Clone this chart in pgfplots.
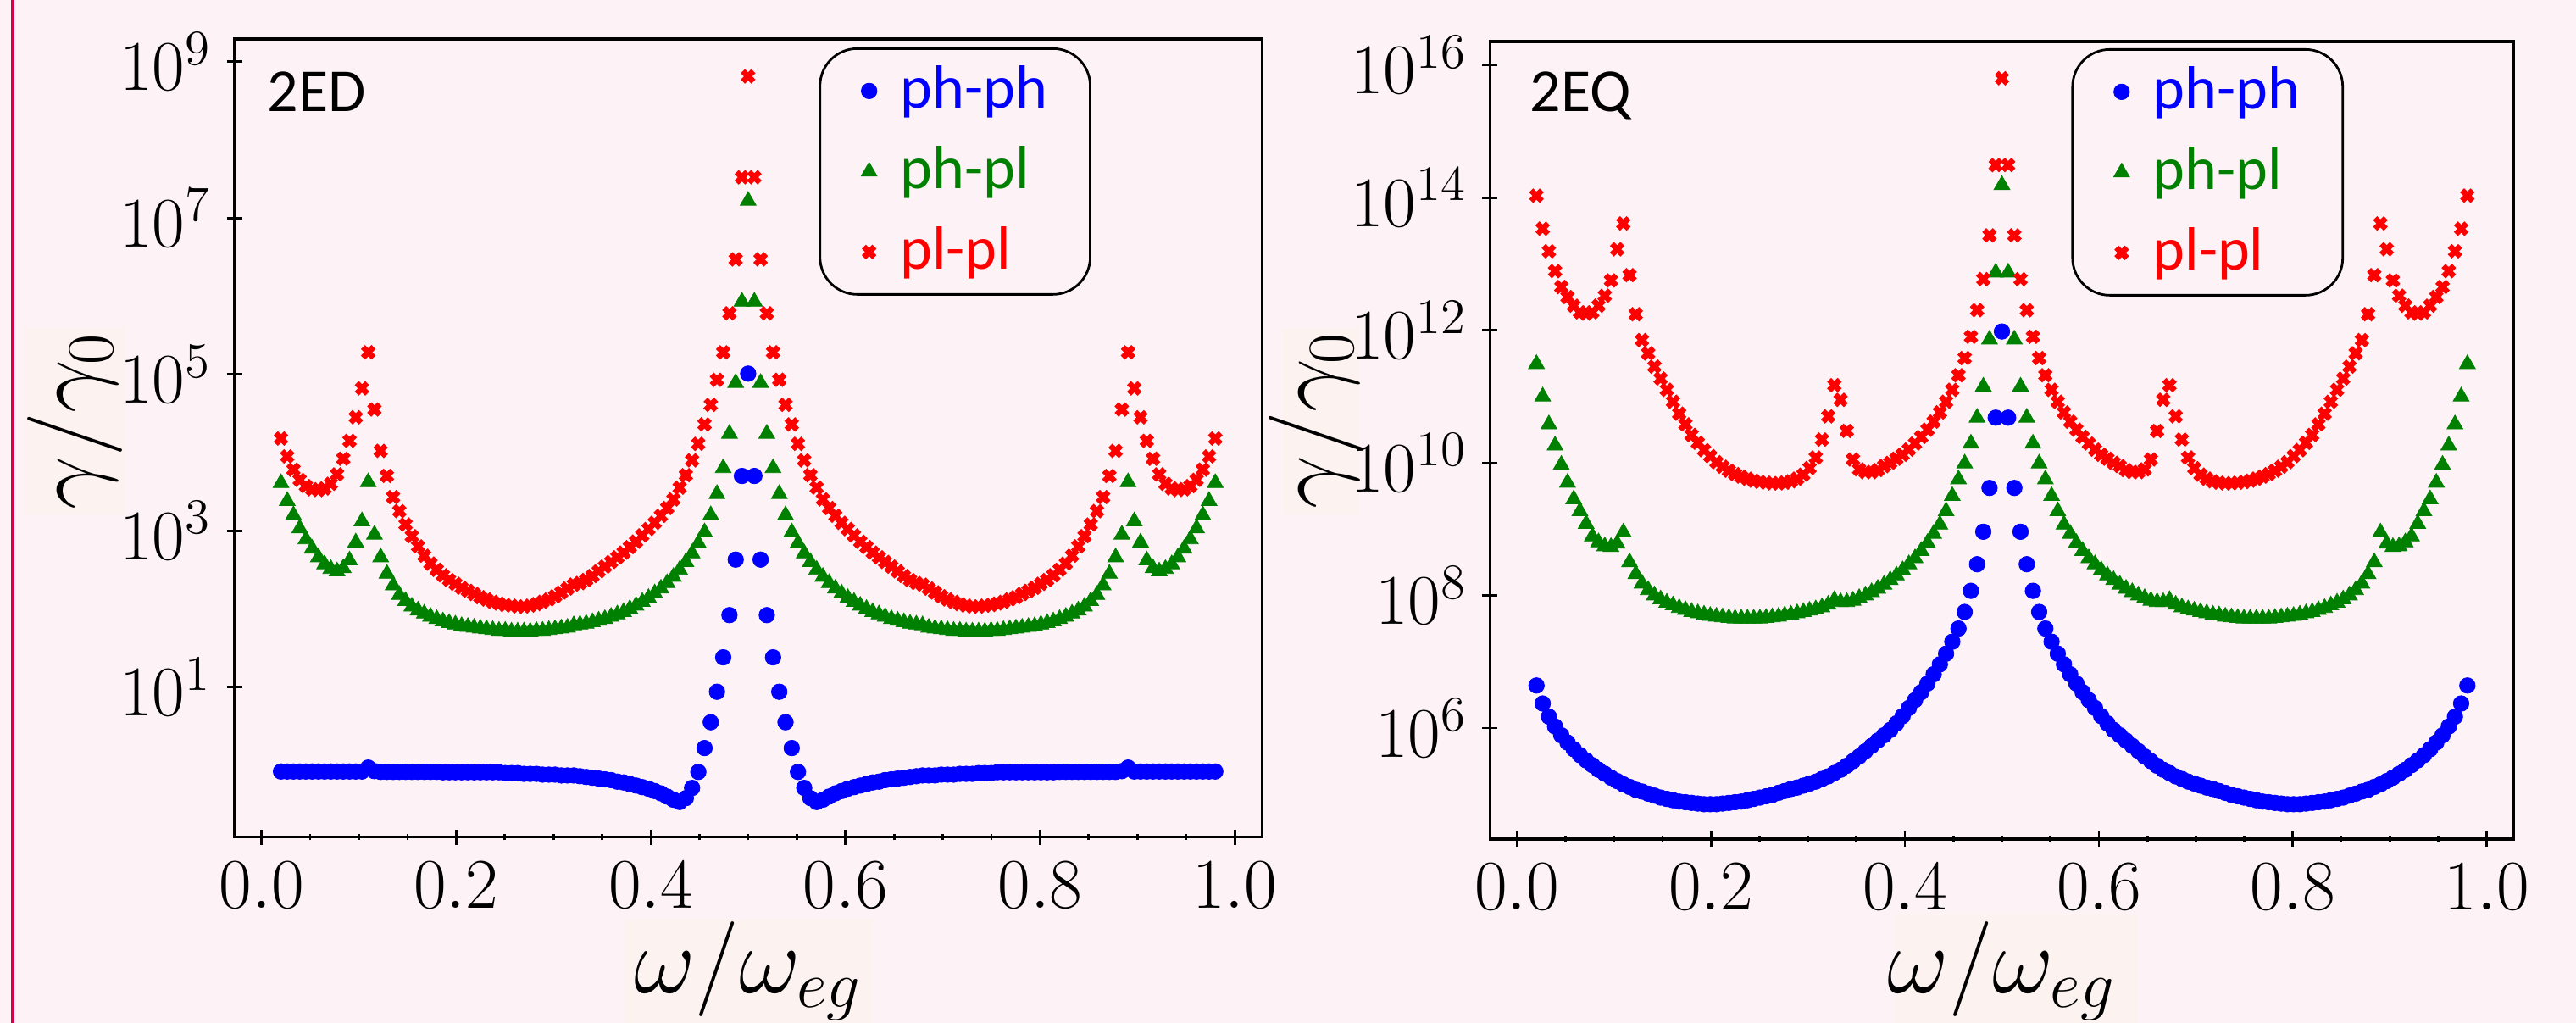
\RequirePackage{fix-cm}
\documentclass[border=0pt]{standalone}
\usepackage{pgfplots}
\pgfplotsset{compat=1.18}
\usepackage{pgfplotstable}
\usepackage{fontspec}
\newfontfamily\carlito{Carlito}
\definecolor{bgpink}{RGB}{253,242,245}
\definecolor{patch}{RGB}{252,243,240}
\definecolor{borderred}{RGB}{214,0,74}
\definecolor{mgreen}{RGB}{0,128,0}

\pgfplotstableread{
w a b c
0.02 0.832 4.07e3 1.51e4
0.0264 0.832 2.40e3 8.91e3
0.0328 0.832 1.58e3 6.03e3
0.0392 0.832 1.07e3 4.47e3
0.0456 0.832 776 3.72e3
0.052 0.832 589 3.39e3
0.0584 0.832 457 3.31e3
0.0648 0.832 372 3.47e3
0.0712 0.832 324 3.98e3
0.0776 0.832 302 5.25e3
0.084 0.832 331 8.32e3
0.0904 0.832 417 1.41e4
0.0968 0.832 708 2.82e4
0.1032 0.832 1.32e3 6.61e4
0.1096 0.933 4.17e3 1.91e5
0.116 0.841 891 3.55e4
0.1224 0.822 457 1.05e4
0.1288 0.822 282 5.01e3
0.1352 0.822 200 2.69e3
0.1416 0.822 151 1.78e3
0.148 0.822 126 1.20e3
0.1544 0.822 107 851
0.1608 0.822 95.5 631
0.1672 0.822 87.1 479
0.1736 0.822 79.4 380
0.18 0.822 74.1 316
0.1864 0.813 69.2 269
0.1928 0.813 66.1 234
0.1992 0.813 63.1 209
0.2056 0.813 60.3 186
0.212 0.813 58.9 170
0.2184 0.813 57.5 155
0.2248 0.813 56.2 141
0.2312 0.813 55.0 132
0.2376 0.813 53.7 123
0.244 0.813 52.5 117
0.2504 0.794 52.5 112
0.2568 0.794 51.3 110
0.2632 0.794 51.3 107
0.2696 0.776 51.3 107
0.276 0.776 51.3 110
0.2824 0.776 52.5 115
0.2888 0.759 52.5 123
0.2952 0.759 53.7 132
0.3016 0.759 55.0 145
0.308 0.741 56.2 162
0.3144 0.741 57.5 182
0.3208 0.741 61.7 204
0.3272 0.724 63.1 214
0.3336 0.708 64.6 234
0.34 0.692 67.6 263
0.3464 0.676 70.8 302
0.3528 0.661 74.1 347
0.3592 0.646 79.4 398
0.3656 0.617 85.1 457
0.372 0.603 91.2 525
0.3784 0.575 100 617
0.3848 0.550 110 724
0.3912 0.525 123 871
0.3976 0.501 138 1.05e3
0.404 0.468 158 1.26e3
0.4104 0.437 182 1.55e3
0.4168 0.398 214 1.95e3
0.4232 0.363 257 2.51e3
0.4296 0.339 316 3.55e3
0.436 0.380 398 5.13e3
0.4424 0.513 513 7.94e3
0.4488 0.822 692 1.29e4
0.4552 1.66 955 2.29e4
0.4616 3.55 1.58e3 4.07e4
0.468 8.71 2.95e3 8.51e4
0.4744 24.0 6.31e3 1.91e5
0.4808 83.2 1.74e4 6.03e5
0.4872 427 7.76e4 2.95e6
0.4936 5010 8.51e5 3.31e7
0.5 1.02e5 1.66e7 6.46e8
0.5064 5010 8.51e5 3.31e7
0.5128 427 7.76e4 2.95e6
0.5192 83.2 1.74e4 6.03e5
0.5256 24.0 6.31e3 1.91e5
0.532 8.71 2.95e3 8.51e4
0.5384 3.55 1.58e3 4.07e4
0.5448 1.66 955 2.29e4
0.5512 0.822 692 1.29e4
0.5576 0.513 513 7.94e3
0.564 0.380 398 5.13e3
0.5704 0.339 316 3.55e3
0.5768 0.363 257 2.51e3
0.5832 0.398 214 1.95e3
0.5896 0.437 182 1.55e3
0.596 0.468 158 1.26e3
0.6024 0.501 138 1.05e3
0.6088 0.525 123 871
0.6152 0.550 110 724
0.6216 0.575 100 617
0.628 0.603 91.2 525
0.6344 0.617 85.1 457
0.6408 0.646 79.4 398
0.6472 0.661 74.1 347
0.6536 0.676 70.8 302
0.66 0.692 67.6 263
0.6664 0.708 64.6 234
0.6728 0.724 63.1 214
0.6792 0.741 61.7 204
0.6856 0.741 57.5 182
0.692 0.741 56.2 162
0.6984 0.759 55.0 145
0.7048 0.759 53.7 132
0.7112 0.759 52.5 123
0.7176 0.776 52.5 115
0.724 0.776 51.3 110
0.7304 0.776 51.3 107
0.7368 0.794 51.3 107
0.7432 0.794 51.3 110
0.7496 0.794 52.5 112
0.756 0.813 52.5 117
0.7624 0.813 53.7 123
0.7688 0.813 55.0 132
0.7752 0.813 56.2 141
0.7816 0.813 57.5 155
0.788 0.813 58.9 170
0.7944 0.813 60.3 186
0.8008 0.813 63.1 209
0.8072 0.813 66.1 234
0.8136 0.813 69.2 269
0.82 0.822 74.1 316
0.8264 0.822 79.4 380
0.8328 0.822 87.1 479
0.8392 0.822 95.5 631
0.8456 0.822 107 851
0.852 0.822 126 1.20e3
0.8584 0.822 151 1.78e3
0.8648 0.822 200 2.69e3
0.8712 0.822 282 5.01e3
0.8776 0.822 457 1.05e4
0.884 0.841 891 3.55e4
0.8904 0.933 4.17e3 1.91e5
0.8968 0.832 1.32e3 6.61e4
0.9032 0.832 708 2.82e4
0.9096 0.832 417 1.41e4
0.916 0.832 331 8.32e3
0.9224 0.832 302 5.25e3
0.9288 0.832 324 3.98e3
0.9352 0.832 372 3.47e3
0.9416 0.832 457 3.31e3
0.948 0.832 589 3.39e3
0.9544 0.832 776 3.72e3
0.9608 0.832 1.07e3 4.47e3
0.9672 0.832 1.58e3 6.03e3
0.9736 0.832 2.40e3 8.91e3
0.98 0.832 4.07e3 1.51e4
}\tabL

\pgfplotstableread{
w a b c
0.02 4.37e6 3.09e11 1.07e14
0.0264 2.34e6 1.00e11 3.39e13
0.0328 1.48e6 3.80e10 1.55e13
0.0392 1.05e6 1.82e10 7.76e12
0.0456 7.76e5 9.33e9 4.47e12
0.052 6.03e5 5.01e9 3.16e12
0.0584 4.79e5 2.82e9 2.34e12
0.0648 3.89e5 1.86e9 1.86e12
0.0712 3.24e5 1.20e9 1.78e12
0.0776 2.75e5 7.76e8 1.86e12
0.084 2.34e5 6.31e8 2.34e12
0.0904 2.04e5 5.50e8 3.31e12
0.0968 1.78e5 5.37e8 5.62e12
0.1032 1.58e5 6.03e8 1.66e13
0.1096 1.41e5 8.91e8 4.07e13
0.116 1.29e5 3.16e8 6.76e12
0.1224 1.17e5 2.09e8 1.74e12
0.1288 1.10e5 1.51e8 7.08e11
0.1352 1.02e5 1.20e8 4.47e11
0.1416 9.55e4 1.00e8 2.82e11
0.148 8.91e4 8.71e7 1.86e11
0.1544 8.51e4 7.76e7 1.26e11
0.1608 8.13e4 7.08e7 8.32e10
0.1672 7.76e4 6.46e7 5.50e10
0.1736 7.59e4 6.03e7 3.80e10
0.18 7.41e4 5.62e7 2.63e10
0.1864 7.24e4 5.37e7 2.00e10
0.1928 7.08e4 5.13e7 1.55e10
0.1992 7.08e4 4.90e7 1.26e10
0.2056 7.08e4 4.79e7 1.02e10
0.212 7.24e4 4.68e7 8.71e9
0.2184 7.41e4 4.57e7 7.59e9
0.2248 7.59e4 4.47e7 6.76e9
0.2312 7.76e4 4.47e7 6.17e9
0.2376 8.13e4 4.47e7 5.75e9
0.244 8.51e4 4.47e7 5.37e9
0.2504 8.91e4 4.47e7 5.13e9
0.2568 9.33e4 4.57e7 5.01e9
0.2632 9.77e4 4.68e7 4.90e9
0.2696 1.05e5 4.79e7 4.90e9
0.276 1.12e5 5.01e7 5.01e9
0.2824 1.20e5 5.13e7 5.25e9
0.2888 1.26e5 5.37e7 5.75e9
0.2952 1.35e5 5.62e7 6.61e9
0.3016 1.45e5 5.89e7 8.32e9
0.308 1.55e5 6.17e7 1.20e10
0.3144 1.70e5 6.61e7 2.24e10
0.3208 1.86e5 7.24e7 5.01e10
0.3272 2.09e5 8.51e7 1.48e11
0.3336 2.34e5 7.94e7 8.91e10
0.34 2.69e5 7.94e7 3.02e10
0.3464 3.16e5 8.32e7 1.12e10
0.3528 3.72e5 9.12e7 7.94e9
0.3592 4.47e5 1.00e8 7.24e9
0.3656 5.37e5 1.12e8 7.24e9
0.372 6.46e5 1.26e8 7.76e9
0.3784 7.76e5 1.45e8 8.91e9
0.3848 9.33e5 1.70e8 1.00e10
0.3912 1.17e6 2.00e8 1.15e10
0.3976 1.51e6 2.40e8 1.32e10
0.404 2.00e6 2.95e8 1.58e10
0.4104 2.63e6 3.63e8 1.95e10
0.4168 3.47e6 4.68e8 2.45e10
0.4232 4.68e6 6.17e8 3.16e10
0.4296 6.46e6 8.51e8 4.17e10
0.436 9.12e6 1.17e9 5.75e10
0.4424 1.32e7 1.86e9 8.32e10
0.4488 2.00e7 3.16e9 1.26e11
0.4552 3.16e7 5.62e9 2.09e11
0.4616 5.62e7 9.77e9 3.80e11
0.468 1.17e8 1.95e10 7.94e11
0.4744 2.95e8 4.79e10 2.00e12
0.4808 9.12e8 1.41e11 5.89e12
0.4872 4.17e9 7.24e11 2.69e13
0.4936 4.79e10 7.41e12 3.09e14
0.5 9.55e11 1.55e14 6.31e15
0.5064 4.79e10 7.41e12 3.09e14
0.5128 4.17e9 7.24e11 2.69e13
0.5192 9.12e8 1.41e11 5.89e12
0.5256 2.95e8 4.79e10 2.00e12
0.532 1.17e8 1.95e10 7.94e11
0.5384 5.62e7 9.77e9 3.80e11
0.5448 3.16e7 5.62e9 2.09e11
0.5512 2.00e7 3.16e9 1.26e11
0.5576 1.32e7 1.86e9 8.32e10
0.564 9.12e6 1.17e9 5.75e10
0.5704 6.46e6 8.51e8 4.17e10
0.5768 4.68e6 6.17e8 3.16e10
0.5832 3.47e6 4.68e8 2.45e10
0.5896 2.63e6 3.63e8 1.95e10
0.596 2.00e6 2.95e8 1.58e10
0.6024 1.51e6 2.40e8 1.32e10
0.6088 1.17e6 2.00e8 1.15e10
0.6152 9.33e5 1.70e8 1.00e10
0.6216 7.76e5 1.45e8 8.91e9
0.628 6.46e5 1.26e8 7.76e9
0.6344 5.37e5 1.12e8 7.24e9
0.6408 4.47e5 1.00e8 7.24e9
0.6472 3.72e5 9.12e7 7.94e9
0.6536 3.16e5 8.32e7 1.12e10
0.66 2.69e5 7.94e7 3.02e10
0.6664 2.34e5 7.94e7 8.91e10
0.6728 2.09e5 8.51e7 1.48e11
0.6792 1.86e5 7.24e7 5.01e10
0.6856 1.70e5 6.61e7 2.24e10
0.692 1.55e5 6.17e7 1.20e10
0.6984 1.45e5 5.89e7 8.32e9
0.7048 1.35e5 5.62e7 6.61e9
0.7112 1.26e5 5.37e7 5.75e9
0.7176 1.20e5 5.13e7 5.25e9
0.724 1.12e5 5.01e7 5.01e9
0.7304 1.05e5 4.79e7 4.90e9
0.7368 9.77e4 4.68e7 4.90e9
0.7432 9.33e4 4.57e7 5.01e9
0.7496 8.91e4 4.47e7 5.13e9
0.756 8.51e4 4.47e7 5.37e9
0.7624 8.13e4 4.47e7 5.75e9
0.7688 7.76e4 4.47e7 6.17e9
0.7752 7.59e4 4.47e7 6.76e9
0.7816 7.41e4 4.57e7 7.59e9
0.788 7.24e4 4.68e7 8.71e9
0.7944 7.08e4 4.79e7 1.02e10
0.8008 7.08e4 4.90e7 1.26e10
0.8072 7.08e4 5.13e7 1.55e10
0.8136 7.24e4 5.37e7 2.00e10
0.82 7.41e4 5.62e7 2.63e10
0.8264 7.59e4 6.03e7 3.80e10
0.8328 7.76e4 6.46e7 5.50e10
0.8392 8.13e4 7.08e7 8.32e10
0.8456 8.51e4 7.76e7 1.26e11
0.852 8.91e4 8.71e7 1.86e11
0.8584 9.55e4 1.00e8 2.82e11
0.8648 1.02e5 1.20e8 4.47e11
0.8712 1.10e5 1.51e8 7.08e11
0.8776 1.17e5 2.09e8 1.74e12
0.884 1.29e5 3.16e8 6.76e12
0.8904 1.41e5 8.91e8 4.07e13
0.8968 1.58e5 6.03e8 1.66e13
0.9032 1.78e5 5.37e8 5.62e12
0.9096 2.04e5 5.50e8 3.31e12
0.916 2.34e5 6.31e8 2.34e12
0.9224 2.75e5 7.76e8 1.86e12
0.9288 3.24e5 1.20e9 1.78e12
0.9352 3.89e5 1.86e9 1.86e12
0.9416 4.79e5 2.82e9 2.34e12
0.948 6.03e5 5.01e9 3.16e12
0.9544 7.76e5 9.33e9 4.47e12
0.9608 1.05e6 1.82e10 7.76e12
0.9672 1.48e6 3.80e10 1.55e13
0.9736 2.34e6 1.00e11 3.39e13
0.98 4.37e6 3.09e11 1.07e14
}\tabR

\tikzset{
  sA/.style={blue, mark=*, mark size=2.3pt, mark options={line width=0.2pt, solid}},
  sB/.style={mgreen, mark=triangle*, mark size=2.7pt, mark options={line width=0.2pt, solid, sharp corners}},
  sC/.style={red, mark=x, mark size=2.2pt, mark options={line width=1.7pt, solid}},
}
\pgfplotsset{
  every tick/.style={black, line width=0.7pt},
  legend image code/.code={\draw[sharp corners,#1,only marks] plot coordinates {(0pt,0pt)};},
}

\begin{document}
\begin{tikzpicture}
\fill[bgpink] (0,0) rectangle (760pt,301.75pt);
\fill[patch] (7.25pt,150pt) rectangle (37pt,205pt);
\fill[patch] (378.5pt,150pt) rectangle (400.75pt,205pt);
\fill[patch] (184.25pt,0pt) rectangle (257.25pt,30.5pt);
\fill[patch] (559.25pt,0pt) rectangle (630.5pt,32pt);
\draw[borderred, line width=1.1pt] (3.75pt,0pt) -- (3.75pt,301.75pt);

\begin{axis}[
  scale only axis, anchor=south west,
  at={(69.125pt,54.825pt)}, width=303.2pt, height=235.425pt,
  ymode=log,
  xmin=-0.028, xmax=1.028,
  ymin=0.1205, ymax=1.945e9,
  xtick={0,0.2,0.4,0.6,0.8,1.0},
  ytick={1e1,1e3,1e5,1e7,1e9},
  minor x tick num=3,
  yminorticks=false,
  tick pos=left,
  tick align=center,
  major tick length=4.5pt,
  minor tick length=1.8pt,
  axis line style={line width=0.8pt},
  tick label style={font=\fontsize{21}{25}\selectfont},
  xticklabel style={inner sep=0pt, anchor=north, yshift=-5pt, /pgf/number format/fixed, /pgf/number format/fixed zerofill, /pgf/number format/precision=1},
  yticklabel style={inner sep=0pt, anchor=east, xshift=-4.4pt},
  xlabel={$\omega/\omega_{eg}$},
  ylabel={$\gamma/\gamma_0$},
  every axis y label/.style={at={([xshift=-40pt]axis description cs:0,0.521)}, rotate=90, anchor=base, font=\fontsize{28}{32}\selectfont},
  every axis x label/.style={at={([yshift=-46pt]axis description cs:0.5,0)}, anchor=base, font=\fontsize{28}{32}\selectfont},
  legend cell align=left,
  legend style={
    at={(0.834,0.9894)}, anchor=north east,
    draw=black, line width=0.7pt, rounded corners=11pt, fill=none,
    inner xsep=12.15pt, inner ysep=2pt,
    row sep=2.75pt, column sep=6.4pt,
    font=\carlito\fontsize{18}{20}\selectfont,
    nodes={inner xsep=0.5pt, inner ysep=0pt, text height=15.5pt, text depth=5.5pt},
  },
]
\addplot[sA, only marks] table[x=w,y=a]{\tabL};
\addlegendentry{\textcolor{blue}{ph-ph}}
\addplot[sB, only marks] table[x=w,y=b]{\tabL};
\addlegendentry{\textcolor{mgreen}{ph-pl}}
\addplot[sC, only marks] table[x=w,y=c]{\tabL};
\addlegendentry{\textcolor{red}{pl-pl}}
\node[anchor=base west, inner sep=0pt, font=\carlito\fontsize{18}{20}\selectfont] at (rel axis cs:0.0317,0.9087) {2ED};
\end{axis}

\begin{axis}[
  scale only axis, anchor=south west,
  at={(439.575pt,54.25pt)}, width=302.1pt, height=235.25pt,
  ymode=log,
  xmin=-0.028, xmax=1.028,
  ymin=2.11e4, ymax=2.26e16,
  xtick={0,0.2,0.4,0.6,0.8,1.0},
  ytick={1e6,1e8,1e10,1e12,1e14,1e16},
  minor x tick num=3,
  yminorticks=false,
  tick pos=left,
  tick align=center,
  major tick length=4.5pt,
  minor tick length=1.8pt,
  axis line style={line width=0.8pt},
  tick label style={font=\fontsize{21}{25}\selectfont},
  xticklabel style={inner sep=0pt, anchor=north, yshift=-5pt, /pgf/number format/fixed, /pgf/number format/fixed zerofill, /pgf/number format/precision=1},
  yticklabel style={inner sep=0pt, anchor=east, xshift=-4.4pt},
  xlabel={$\omega/\omega_{eg}$},
  ylabel={$\gamma/\gamma_0$},
  every axis y label/.style={at={([xshift=-44.3pt]axis description cs:0,0.525)}, rotate=90, anchor=base, font=\fontsize{28}{32}\selectfont},
  every axis x label/.style={at={([yshift=-45.5pt]axis description cs:0.5,0)}, anchor=base, font=\fontsize{28}{32}\selectfont},
  legend cell align=left,
  legend style={
    at={(0.834,0.9915)}, anchor=north east,
    draw=black, line width=0.7pt, rounded corners=11pt, fill=none,
    inner xsep=12.15pt, inner ysep=2pt,
    row sep=2.75pt, column sep=6.4pt,
    font=\carlito\fontsize{18}{20}\selectfont,
    nodes={inner xsep=0.5pt, inner ysep=0pt, text height=15.5pt, text depth=5.5pt},
  },
]
\addplot[sA, only marks] table[x=w,y=a]{\tabR};
\addlegendentry{\textcolor{blue}{ph-ph}}
\addplot[sB, only marks] table[x=w,y=b]{\tabR};
\addlegendentry{\textcolor{mgreen}{ph-pl}}
\addplot[sC, only marks] table[x=w,y=c]{\tabR};
\addlegendentry{\textcolor{red}{pl-pl}}
\node[anchor=base west, inner sep=0pt, font=\carlito\fontsize{18}{20}\selectfont] at (rel axis cs:0.0386,0.9118) {2EQ};
\end{axis}
\pgfresetboundingbox
\path[use as bounding box] (0,0) rectangle (760pt,301.75pt);
\end{tikzpicture}
\end{document}
